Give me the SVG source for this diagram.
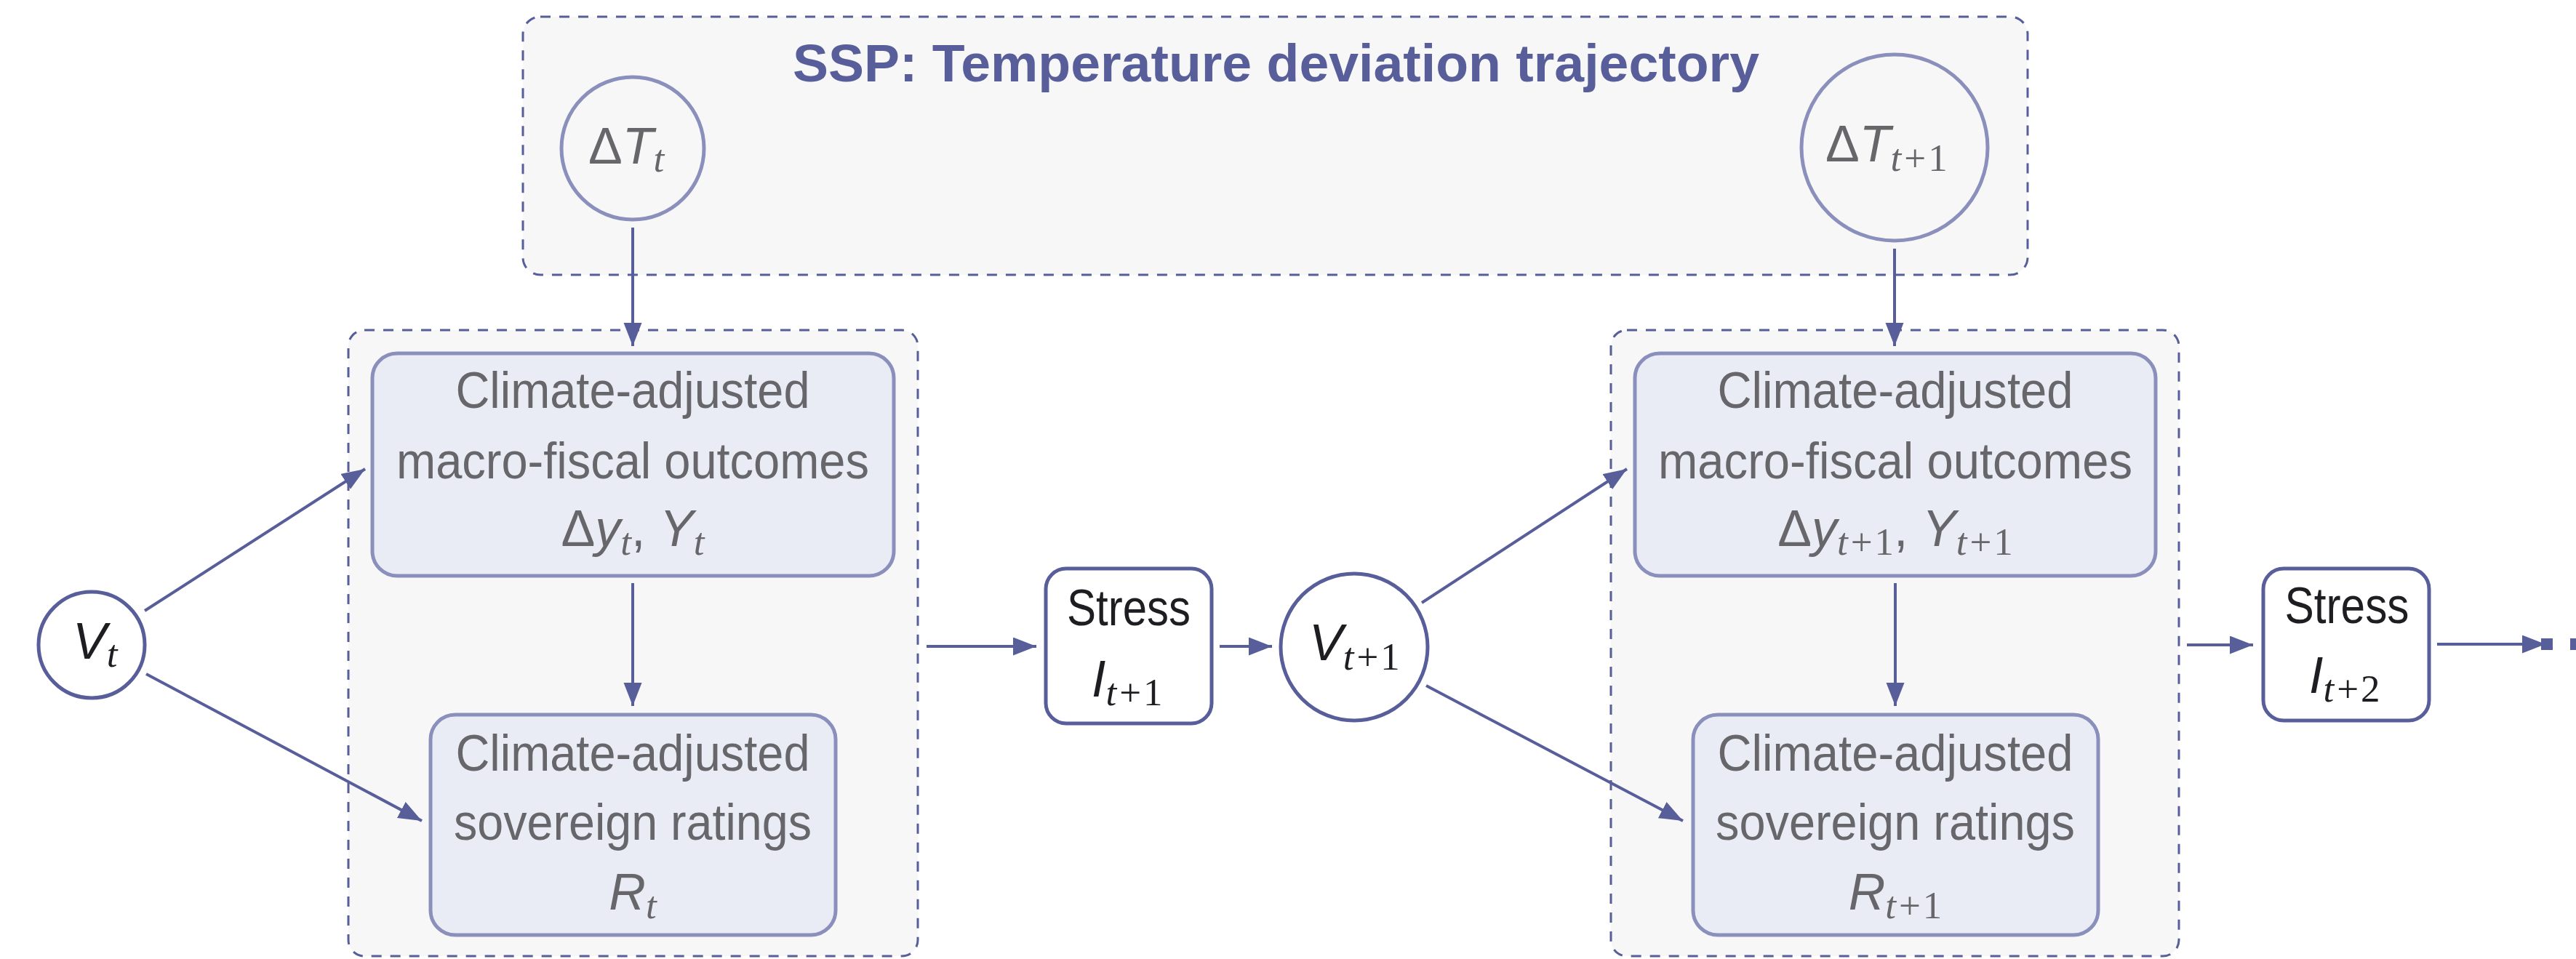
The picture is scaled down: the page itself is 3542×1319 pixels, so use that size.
<svg xmlns="http://www.w3.org/2000/svg" width="3542" height="1319" viewBox="0 0 3542 1319">
  <style>
    .grp { fill: #f7f7f7; stroke: #575e9a; stroke-width: 3; stroke-dasharray: 14 12; }
    .soft { fill: #e9ecf4; stroke: #8b8fbc; stroke-width: 5; }
    .temp { fill: #f7f7f7; stroke: #8b8fbc; stroke-width: 5; }
    .hard { fill: #ffffff; stroke: #575e9a; stroke-width: 5; }
    .edge { fill: none; stroke: #575e9a; stroke-width: 4; marker-end: url(#tip); }
    .title { font-family: "Liberation Sans", "DejaVu Sans", sans-serif; font-weight: bold; font-size: 72px; fill: #575e9a; }
    .lbl { font-family: "Liberation Sans", "DejaVu Sans", sans-serif; font-size: 70px; fill: #67676b; }
    .dark { fill: #1e1e22; }
    .it { font-style: italic; }
    .sub { font-family: "Liberation Serif", "DejaVu Serif", serif; font-size: 53px; }
    .sit { font-family: "Liberation Serif", "DejaVu Serif", serif; font-size: 53px; font-style: italic; }
  </style>
  <defs>
    <marker id="tip" markerUnits="userSpaceOnUse" markerWidth="34" markerHeight="26" refX="32" refY="12.5" orient="auto">
      <path d="M0,0 L32,12.5 L0,25 Z" fill="#575e9a"/>
    </marker>
  </defs>

  <!-- SSP temperature trajectory frame -->
  <g id="ssp">
    <rect class="grp" x="719" y="23" width="2069" height="355" rx="24"/>
    <text class="title" x="1090" y="112" textLength="1329" lengthAdjust="spacingAndGlyphs">SSP: Temperature deviation trajectory</text>
  </g>

  <g id="dT_t">
    <circle class="temp" cx="870" cy="204" r="98"/>
    <text class="lbl" x="809" y="225" font-size="72">Δ<tspan class="it">T</tspan><tspan class="sit" dy="11">t</tspan></text>
  </g>

  <g id="dT_t1">
    <circle class="temp" cx="2605" cy="203" r="128"/>
    <text class="lbl" x="2510" y="222" font-size="72">Δ<tspan class="it">T</tspan><tspan class="sit" dy="13">t</tspan><tspan class="sub" dx="4">+</tspan><tspan class="sub" dx="3">1</tspan></text>
  </g>

  <!-- period t block -->
  <g id="block_t">
    <rect class="grp" x="479" y="454" width="783" height="861" rx="22"/>
  </g>

  <g id="macro_t">
    <rect class="soft" x="512" y="486" width="717" height="306" rx="34"/>
    <text class="lbl" x="870" y="561" text-anchor="middle" textLength="487" lengthAdjust="spacingAndGlyphs">Climate-adjusted</text>
    <text class="lbl" x="870" y="658" text-anchor="middle" textLength="650" lengthAdjust="spacingAndGlyphs">macro-fiscal outcomes</text>
    <text class="lbl" x="870" y="751" text-anchor="middle" font-size="72">Δ<tspan class="it">y</tspan><tspan class="sit" dy="12">t</tspan><tspan dy="-12">, </tspan><tspan class="it">Y</tspan><tspan class="sit" dy="12">t</tspan></text>
  </g>

  <g id="rating_t">
    <rect class="soft" x="592" y="983" width="557" height="303" rx="34"/>
    <text class="lbl" x="870" y="1060" text-anchor="middle" textLength="487" lengthAdjust="spacingAndGlyphs">Climate-adjusted</text>
    <text class="lbl" x="870" y="1155" text-anchor="middle" textLength="492" lengthAdjust="spacingAndGlyphs">sovereign ratings</text>
    <text class="lbl" x="870" y="1251" text-anchor="middle" font-size="72"><tspan class="it">R</tspan><tspan class="sit" dy="12">t</tspan></text>
  </g>

  <g id="V_t">
    <circle class="hard" cx="126" cy="887" r="73"/>
    <text class="lbl dark" x="100" y="906" font-size="72"><tspan class="it">V</tspan><tspan class="sit" dy="11">t</tspan></text>
  </g>

  <g id="stress_t1">
    <rect class="hard" x="1438" y="782" width="228" height="213" rx="28"/>
    <text class="lbl dark" x="1552" y="860" text-anchor="middle" textLength="170" lengthAdjust="spacingAndGlyphs">Stress</text>
    <text class="lbl dark" x="1501" y="958" font-size="72"><tspan class="it">I</tspan><tspan class="sit" dy="12">t</tspan><tspan class="sub" dx="4">+</tspan><tspan class="sub" dx="3">1</tspan></text>
  </g>

  <g id="V_t1">
    <circle class="hard" cx="1862" cy="890" r="101"/>
    <text class="lbl dark" x="1800" y="908" font-size="72"><tspan class="it">V</tspan><tspan class="sit" dy="13">t</tspan><tspan class="sub" dx="4">+</tspan><tspan class="sub" dx="3">1</tspan></text>
  </g>

  <!-- period t+1 block -->
  <g id="block_t1">
    <rect class="grp" x="2215" y="454" width="781" height="861" rx="22"/>
  </g>

  <g id="macro_t1">
    <rect class="soft" x="2248" y="486" width="716" height="306" rx="34"/>
    <text class="lbl" x="2606" y="561" text-anchor="middle" textLength="489" lengthAdjust="spacingAndGlyphs">Climate-adjusted</text>
    <text class="lbl" x="2606" y="658" text-anchor="middle" textLength="652" lengthAdjust="spacingAndGlyphs">macro-fiscal outcomes</text>
    <text class="lbl" x="2606" y="751" text-anchor="middle" font-size="72">Δ<tspan class="it">y</tspan><tspan class="sit" dy="12">t</tspan><tspan class="sub" dx="4">+</tspan><tspan class="sub" dx="3">1</tspan><tspan dy="-12">, </tspan><tspan class="it">Y</tspan><tspan class="sit" dy="12">t</tspan><tspan class="sub" dx="4">+</tspan><tspan class="sub" dx="3">1</tspan></text>
  </g>

  <g id="rating_t1">
    <rect class="soft" x="2328" y="983" width="557" height="303" rx="34"/>
    <text class="lbl" x="2606" y="1060" text-anchor="middle" textLength="489" lengthAdjust="spacingAndGlyphs">Climate-adjusted</text>
    <text class="lbl" x="2606" y="1155" text-anchor="middle" textLength="494" lengthAdjust="spacingAndGlyphs">sovereign ratings</text>
    <text class="lbl" x="2606" y="1251" text-anchor="middle" font-size="72"><tspan class="it">R</tspan><tspan class="sit" dy="12">t</tspan><tspan class="sub" dx="4">+</tspan><tspan class="sub" dx="3">1</tspan></text>
  </g>

  <g id="stress_t2">
    <rect class="hard" x="3112" y="782" width="228" height="209" rx="28"/>
    <text class="lbl dark" x="3227" y="857" text-anchor="middle" textLength="171" lengthAdjust="spacingAndGlyphs">Stress</text>
    <text class="lbl dark" x="3175" y="953" font-size="72"><tspan class="it">I</tspan><tspan class="sit" dy="12">t</tspan><tspan class="sub" dx="4">+</tspan><tspan class="sub" dx="3">2</tspan></text>
  </g>

  <!-- connectors -->
  <g id="edges">
    <line class="edge" x1="870" y1="313" x2="870" y2="476"/>
    <line class="edge" x1="2605" y1="342" x2="2605" y2="476"/>
    <line class="edge" x1="870" y1="802" x2="870" y2="971"/>
    <line class="edge" x1="2606" y1="802" x2="2606" y2="971"/>
    <line class="edge" x1="199" y1="840" x2="502" y2="645"/>
    <line class="edge" x1="201" y1="927" x2="580" y2="1129"/>
    <line class="edge" x1="1955" y1="829" x2="2237" y2="645"/>
    <line class="edge" x1="1961" y1="943" x2="2314" y2="1129"/>
    <line class="edge" x1="1274" y1="889" x2="1425" y2="889"/>
    <line class="edge" x1="1677" y1="889" x2="1749" y2="889"/>
    <line class="edge" x1="3007" y1="887" x2="3098" y2="887"/>
    <line class="edge" x1="3351" y1="886" x2="3500" y2="886"/>
    <rect x="3494" y="878" width="16" height="16" fill="#575e9a"/>
    <rect x="3534" y="878" width="16" height="16" fill="#575e9a"/>
  </g>
</svg>
